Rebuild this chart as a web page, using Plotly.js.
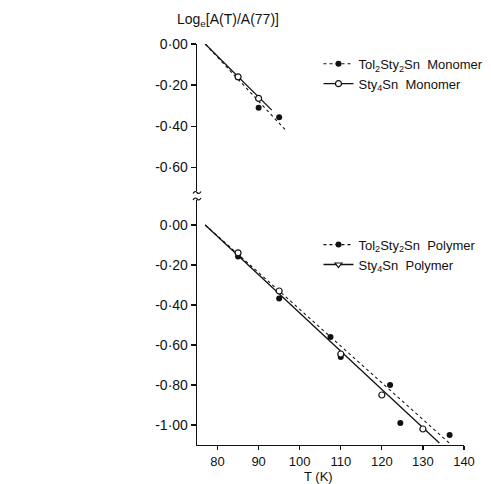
<!DOCTYPE html>
<html><head><meta charset="utf-8">
<script src="https://cdn.plot.ly/plotly-3.0.1.min.js"></script>
<style>html,body{margin:0;padding:0;background:#fff}#chart{width:491px;height:484px}</style>
</head><body><div id="chart"></div>
<script>
// ---- data ----
const monoTolT = [90, 95];
const monoTolV = [-0.31, -0.357];
const monoStyT = [85, 90];
const monoStyV = [-0.16, -0.265];
const monoTolFitT = [77, 96.4];
const monoTolFitV = [0, -0.416];
const monoStyFitT = [77, 93.2];
const monoStyFitV = [0, -0.322];

const polyTolT = [85, 95, 107.5, 110, 122, 124.5, 136.5];
const polyTolV = [-0.158, -0.367, -0.56, -0.66, -0.80, -0.99, -1.05];
const polyStyT = [85, 95, 110, 120, 130];
const polyStyV = [-0.139, -0.33, -0.645, -0.85, -1.02];
const polyTolFitT = [77, 136.4];
const polyTolFitV = [0, -1.09];
const polyStyFitT = [77, 134];
const polyStyFitV = [0, -1.09];

const xTickVals = [80, 90, 100, 110, 120, 130, 140];
const topTickVals = [0, -0.2, -0.4, -0.6];
const topTickText = ['0·00', '-0·20', '-0·40', '-0·60'];
const botTickVals = [0, -0.2, -0.4, -0.6, -0.8, -1.0];
const botTickText = ['0·00', '-0·20', '-0·40', '-0·60', '-0·80', '-1·00'];

const names = {
  monoTol: 'Tol<sub>2</sub>Sty<sub>2</sub>Sn  Monomer',
  monoSty: 'Sty<sub>4</sub>Sn  Monomer',
  polyTol: 'Tol<sub>2</sub>Sty<sub>2</sub>Sn  Polymer',
  polySty: 'Sty<sub>4</sub>Sn  Polymer'
};

// ---- styles ----
const K = '#111';
const dotLine = {color: K, width: 1.1, dash: 'dot'};
const solidLine = {color: K, width: 1.3};
const filled = {symbol: 'circle', size: 6, color: K};
const open = {symbol: 'circle', size: 6, color: '#fff', line: {color: K, width: 1.2}};
const openLeg = {symbol: 'triangle-down', size: 6, color: '#fff', line: {color: K, width: 1.2}};

const traces = [
  // top panel
  {x: monoTolFitT, y: monoTolFitV, yaxis: 'y2', mode: 'lines', line: dotLine, showlegend: false, hoverinfo: 'skip'},
  {x: monoStyFitT, y: monoStyFitV, yaxis: 'y2', mode: 'lines', line: solidLine, showlegend: false, hoverinfo: 'skip'},
  {x: monoTolT, y: monoTolV, yaxis: 'y2', mode: 'markers', marker: filled, showlegend: false},
  {x: monoStyT, y: monoStyV, yaxis: 'y2', mode: 'markers', marker: open, showlegend: false},
  // bottom panel
  {x: polyTolFitT, y: polyTolFitV, yaxis: 'y', mode: 'lines', line: dotLine, showlegend: false, hoverinfo: 'skip'},
  {x: polyStyFitT, y: polyStyFitV, yaxis: 'y', mode: 'lines', line: solidLine, showlegend: false, hoverinfo: 'skip'},
  {x: polyTolT, y: polyTolV, yaxis: 'y', mode: 'markers', marker: filled, showlegend: false},
  {x: polyStyT, y: polyStyV, yaxis: 'y', mode: 'markers', marker: open, showlegend: false},
  // legend entries
  {x: [null], y: [null], yaxis: 'y2', mode: 'lines+markers', line: dotLine, marker: filled, name: names.monoTol, legend: 'legend'},
  {x: [null], y: [null], yaxis: 'y2', mode: 'lines+markers', line: solidLine, marker: open, name: names.monoSty, legend: 'legend'},
  {x: [null], y: [null], yaxis: 'y', mode: 'lines+markers', line: dotLine, marker: filled, name: names.polyTol, legend: 'legend2'},
  {x: [null], y: [null], yaxis: 'y', mode: 'lines+markers', line: solidLine, marker: openLeg, name: names.polySty, legend: 'legend2'}
];

// break marks on the y axis
const W = 491 - 197 - 27, H = 484 - 44 - 39;
function wig(pyOffsetFromBottom) {
  const y0 = pyOffsetFromBottom / H, dx = 4 / W, dy = 2 / H;
  return `M ${-dx} ${y0 - dy/2} Q ${-dx/2} ${y0 + dy*1.2}, 0 ${y0} T ${dx} ${y0 + dy/2}`;
}
const breakShapes = [wig(445 - 192.5), wig(445 - 199)].map(p => ({
  type: 'path', xref: 'paper', yref: 'paper', path: p, line: {color: K, width: 1.2}
}));

const axisCommon = {
  showline: true, linecolor: K, linewidth: 1.3, ticks: 'outside', tickcolor: K, tickwidth: 1.2,
  showgrid: false, zeroline: false, tickfont: {size: 13, color: K}
};

const layout = {
  width: 491, height: 484,
  margin: {l: 197, r: 27, t: 44, b: 39, autoexpand: false},
  paper_bgcolor: '#fff', plot_bgcolor: '#fff',
  font: {family: 'Liberation Sans, Arial, sans-serif', color: K, size: 12},
  xaxis: Object.assign({}, axisCommon, {range: [75, 140], domain: [0, 1], anchor: 'y', tickvals: xTickVals, ticklen: 4}),
  yaxis: Object.assign({}, axisCommon, {range: [-1.10, 0.125], domain: [0, 0.611], anchor: 'x', tickvals: botTickVals, ticktext: botTickText, ticklen: 5, tickfont: {size: 14, color: K}}),
  yaxis2: Object.assign({}, axisCommon, {range: [-0.717, 0], domain: [0.633, 1], anchor: 'x', tickvals: topTickVals, ticktext: topTickText, ticklen: 5, tickfont: {size: 14, color: K}}),
  legend: {x: 0.455, y: 0.988, xanchor: 'left', yanchor: 'top', bgcolor: 'rgba(0,0,0,0)', font: {size: 13, color: K}, tracegroupgap: 0, itemwidth: 30},
  legend2: {x: 0.455, y: 0.537, xanchor: 'left', yanchor: 'top', bgcolor: 'rgba(0,0,0,0)', font: {size: 13, color: K}, tracegroupgap: 0, itemwidth: 30},
  shapes: breakShapes,
  annotations: [
    {xref: 'paper', yref: 'paper', x: -0.082, y: 1.06, xanchor: 'left', yanchor: 'middle', showarrow: false,
     text: 'Log<sub>e</sub>[A(T)/A(77)]', font: {size: 14, color: K}},
    {xref: 'paper', yref: 'paper', x: (318 - 197) / W, y: -0.078, xanchor: 'center', yanchor: 'middle', showarrow: false,
     text: 'T (K)', font: {size: 13, color: K}}
  ],
  showlegend: true
};

Plotly.newPlot('chart', traces, layout, {displayModeBar: false, staticPlot: true});
</script>
</body></html>
